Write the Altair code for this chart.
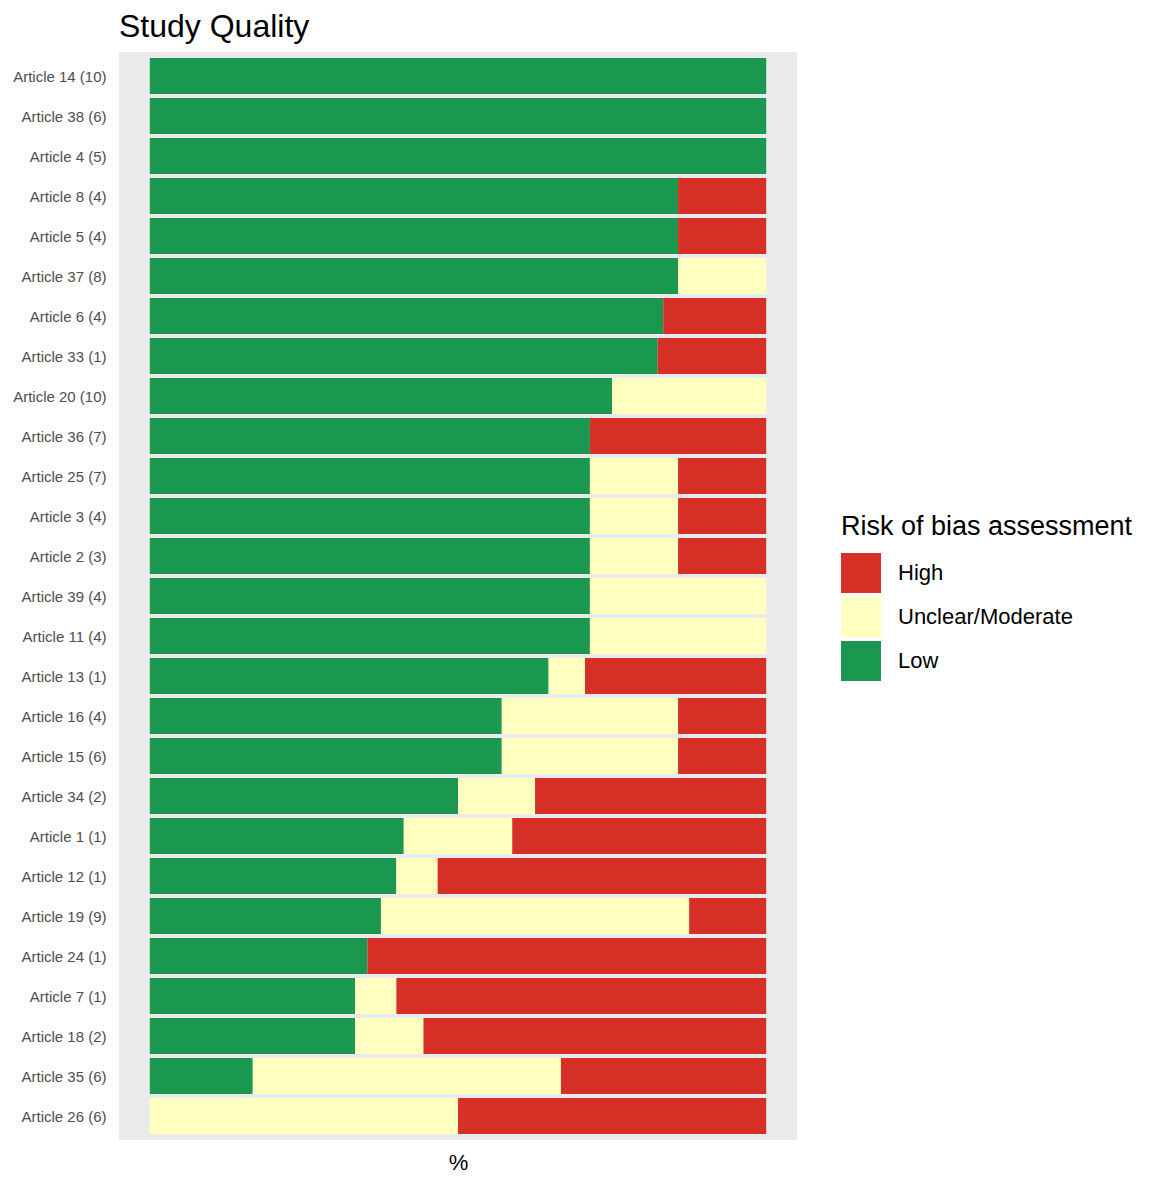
import altair as alt
import pandas as pd

articles = [
    "Article 14 (10)", "Article 38 (6)", "Article 4 (5)", "Article 8 (4)", "Article 5 (4)",
    "Article 37 (8)", "Article 6 (4)", "Article 33 (1)", "Article 20 (10)", "Article 36 (7)",
    "Article 25 (7)", "Article 3 (4)", "Article 2 (3)", "Article 39 (4)", "Article 11 (4)",
    "Article 13 (1)", "Article 16 (4)", "Article 15 (6)", "Article 34 (2)", "Article 1 (1)",
    "Article 12 (1)", "Article 19 (9)", "Article 24 (1)", "Article 7 (1)", "Article 18 (2)",
    "Article 35 (6)", "Article 26 (6)",
]
low = [1.0, 1.0, 1.0, 0.857, 0.857, 0.857, 0.833, 0.824, 0.75, 0.714,
       0.714, 0.714, 0.714, 0.714, 0.714, 0.647, 0.571, 0.571, 0.5, 0.412,
       0.4, 0.375, 0.353, 0.333, 0.333, 0.167, 0.0]
unclear = [0.0, 0.0, 0.0, 0.0, 0.0, 0.143, 0.0, 0.0, 0.25, 0.0,
           0.143, 0.143, 0.143, 0.286, 0.286, 0.059, 0.286, 0.286, 0.125, 0.176,
           0.067, 0.5, 0.0, 0.067, 0.111, 0.5, 0.5]
high = [0.0, 0.0, 0.0, 0.143, 0.143, 0.0, 0.167, 0.176, 0.0, 0.286,
        0.143, 0.143, 0.143, 0.0, 0.0, 0.294, 0.143, 0.143, 0.375, 0.412,
        0.533, 0.125, 0.647, 0.6, 0.556, 0.333, 0.5]

levels = ["High", "Unclear/Moderate", "Low"]
colors = ["#d73027", "#ffffbf", "#1a9850"]
stack_rank = {"Low": 0, "Unclear/Moderate": 1, "High": 2}

rows = []
for i, a in enumerate(articles):
    for lvl, vals in (("Low", low), ("Unclear/Moderate", unclear), ("High", high)):
        if vals[i] > 0:
            rows.append({"article": a, "level": lvl, "value": vals[i], "rank": stack_rank[lvl]})
df = pd.DataFrame(rows)

FONT = "Liberation Sans"

chart = (
    alt.Chart(df)
    .mark_bar()
    .encode(
        y=alt.Y(
            "article:N",
            sort=articles,
            scale=alt.Scale(paddingInner=0.1, paddingOuter=0.15),
            axis=alt.Axis(
                title=None, ticks=False, domain=False, labelPadding=13, labelOffset=1,
                labelFontSize=15, labelColor="#4d4d4d", labelFont=FONT,
            ),
        ),
        x=alt.X(
            "value:Q",
            stack="zero",
            scale=alt.Scale(domain=[-0.05, 1.05], nice=False, zero=False),
            axis=alt.Axis(
                title="%", labels=False, ticks=False, domain=False, grid=False,
                titleFontSize=22, titleFont=FONT, titleFontWeight="normal",
                titleColor="#000000", titlePadding=12,
            ),
        ),
        color=alt.Color(
            "level:N",
            scale=alt.Scale(domain=levels, range=colors),
            legend=alt.Legend(
                title="Risk of bias assessment", orient="none", legendX=722, legendY=462,
                titleFontSize=27, titleFont=FONT, titleFontWeight="normal", titleColor="#000000",
                titlePadding=12, titleLimit=400, labelLimit=300,
                labelFontSize=22, labelFont=FONT, labelColor="#000000",
                labelOffset=17, symbolType="square", symbolSize=1600, symbolStrokeWidth=0,
                symbolOpacity=1, rowPadding=4,
            ),
        ),
        order=alt.Order("rank:Q", sort="ascending"),
    )
    .properties(
        width=678,
        height=1088,
        title=alt.TitleParams(
            "Study Quality", anchor="start", frame="group", fontSize=32, font=FONT,
            fontWeight="normal", color="#000000", offset=8,
        ),
        autosize=alt.AutoSizeParams(type="none"),
        padding={"left": 111, "top": 44, "right": 344, "bottom": 34},
    )
    .configure_view(fill="#ebebeb", stroke=None)
)

chart.save("out.html", embed_options={"renderer": "svg", "actions": False})
